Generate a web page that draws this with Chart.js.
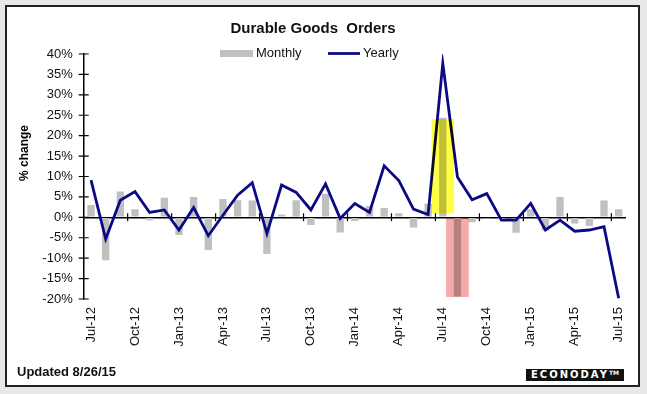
<!DOCTYPE html>
<html><head><meta charset="utf-8">
<script src="https://cdn.jsdelivr.net/npm/chart.js@4.4.1/dist/chart.umd.min.js"></script>
<style>
html,body{margin:0;padding:0;background:#e8e8e8;width:647px;height:394px;overflow:hidden;}
#panel{position:absolute;left:5px;top:5px;width:631px;height:378px;background:#fff;border:2px solid #222;}
#wrap{position:absolute;left:0;top:0;width:647px;height:394px;}
#upd{position:absolute;left:17px;top:364px;font:bold 13px "Liberation Sans",Arial,sans-serif;color:#111;}
#logo{position:absolute;left:526px;top:369px;width:98px;height:12px;background:#111;color:#fff;font:bold 10px "DejaVu Sans",sans-serif;letter-spacing:2px;line-height:12px;text-align:center;white-space:nowrap;}
#logo sup{font-size:6px;letter-spacing:0;vertical-align:top;line-height:8px;}
</style>
</head><body>
<div id="panel"></div>
<div id="wrap"><canvas id="c" width="647" height="394"></canvas></div>
<div id="upd">Updated 8/26/15</div>
<div id="logo">ECONODAY<sup>TM</sup></div>
<script>
const categories = ['Jul-12','Aug-12','Sep-12','Oct-12','Nov-12','Dec-12','Jan-13','Feb-13','Mar-13','Apr-13','May-13','Jun-13','Jul-13','Aug-13','Sep-13','Oct-13','Nov-13','Dec-13','Jan-14','Feb-14','Mar-14','Apr-14','May-14','Jun-14','Jul-14','Aug-14','Sep-14','Oct-14','Nov-14','Dec-14','Jan-15','Feb-15','Mar-15','Apr-15','May-15','Jun-15','Jul-15'];
const monthly = [3.0,-10.5,6.3,2.0,-0.7,4.8,-4.3,5.0,-8.0,4.5,4.2,4.1,-9.0,0.7,4.2,-1.9,5.8,-3.7,-0.9,2.8,2.3,1.0,-2.5,3.3,24.4,-19.4,-1.2,-0.3,-0.5,-3.8,2.0,-3.2,5.0,-1.5,-2.1,4.1,2.0];
const yearly = [9.1,-5.3,4.2,6.3,1.2,1.8,-3.1,2.4,-4.5,0.5,5.4,8.5,-4.0,7.9,6.1,1.8,8.2,-0.3,3.4,1.2,12.6,9.0,2.0,0.7,37.7,9.9,4.3,5.8,-0.7,-0.7,3.4,-3.1,-0.7,-3.4,-3.1,-2.3,-19.8];
const highlightMonths = ['Jul-14','Aug-14'];
const highlightLow = [1, -19.4];
const highlightHigh = [24, 0];
const highlightColors = ['#ffff48','#f5aaaa'];
const yMin = -20, yMax = 40, yStep = 5;
const tickEvery = 3;

const highlightData = categories.map(c => {
  const k = highlightMonths.indexOf(c);
  return k < 0 ? null : [highlightLow[k], highlightHigh[k]];
});
const highlightBg = categories.map(c => {
  const k = highlightMonths.indexOf(c);
  return k < 0 ? 'rgba(0,0,0,0)' : highlightColors[k];
});

const FONT = '"Liberation Sans", Arial, sans-serif';
const NAVY = '#0a0a84';
const GRAY = '#c0c0c0';

const deco = {
  id: 'deco',
  beforeDatasetDraw(chart, args) {
    if (chart.data.datasets[args.index].label === 'highlight') {
      chart.ctx.save();
      chart.ctx.globalCompositeOperation = 'multiply';
    }
  },
  afterDatasetDraw(chart, args) {
    if (chart.data.datasets[args.index].label === 'highlight') chart.ctx.restore();
  },
  afterDraw(chart) {
    const {ctx, chartArea: a, scales: {x, y}} = chart;
    ctx.save();
    ctx.strokeStyle = '#000';
    ctx.lineWidth = 1.2;
    const y0 = y.getPixelForValue(0);
    ctx.beginPath();
    for (let i = tickEvery; i < categories.length; i += tickEvery) {
      const px = (x.getPixelForValue(i - 1) + x.getPixelForValue(i)) / 2;
      ctx.moveTo(px, y0 - 4); ctx.lineTo(px, y0 + 4);
    }
    y.ticks.forEach(t => {
      const py = y.getPixelForValue(t.value);
      ctx.moveTo(a.left - 5, py); ctx.lineTo(a.left + 5, py);
    });
    ctx.stroke();
    // y axis title
    ctx.save();
    ctx.translate(25, 153);
    ctx.rotate(-Math.PI / 2);
    ctx.fillStyle = '#000';
    ctx.font = 'bold 12px ' + FONT;
    ctx.textAlign = 'center';
    ctx.textBaseline = 'middle';
    ctx.fillText('% change', 0, 0);
    ctx.restore();
    // legend
    const ly = 53.5;
    ctx.fillStyle = GRAY;
    ctx.fillRect(220, ly - 3.5, 33, 7);
    ctx.strokeStyle = NAVY;
    ctx.lineWidth = 2.8;
    ctx.beginPath(); ctx.moveTo(328, ly); ctx.lineTo(360, ly); ctx.stroke();
    ctx.fillStyle = '#111';
    ctx.font = '13px ' + FONT;
    ctx.textAlign = 'left';
    ctx.textBaseline = 'middle';
    ctx.fillText('Monthly', 256, ly);
    ctx.fillText('Yearly', 363, ly);
    ctx.restore();
  }
};

new Chart(document.getElementById('c'), {
  data: {
    labels: categories,
    datasets: [
      { type: 'bar', label: 'highlight', data: highlightData, backgroundColor: highlightBg,
        grouped: false, barThickness: 22, order: 0 },
      { type: 'line', label: 'Yearly', data: yearly, borderColor: NAVY, borderWidth: 2.8,
        pointRadius: 0, tension: 0, fill: false, order: 1 },
      { type: 'bar', label: 'Monthly', data: monthly, backgroundColor: GRAY,
        grouped: false, categoryPercentage: 1, barPercentage: 0.5, order: 2 }
    ]
  },
  options: {
    responsive: false,
    animation: false,
    layout: { padding: { left: 0, right: 21, top: 20, bottom: 0 } },
    plugins: {
      legend: { display: false },
      tooltip: { enabled: false },
      title: { display: true, text: 'Durable Goods  Orders', color: '#111',
        font: { family: FONT, size: 15, weight: 'bold' }, padding: { top: 0, bottom: 16 } }
    },
    scales: {
      x: {
        offset: true,
        grid: { display: false, drawTicks: false },
        border: { display: false },
        ticks: {
          autoSkip: false, minRotation: 90, maxRotation: 90, padding: 8, color: '#111',
          font: { family: FONT, size: 13 },
          callback: (v, i) => (i % tickEvery === 0 ? categories[i] : '')
        },
        afterFit: s => { s.height = 95; }
      },
      y: {
        min: yMin, max: yMax,
        grid: { drawTicks: false, lineWidth: 1.5,
          color: c => (c.tick && c.tick.value === 0 ? '#000' : 'rgba(0,0,0,0)') },
        border: { display: true, color: '#000', width: 1.5 },
        ticks: { stepSize: yStep, padding: 11, color: '#111',
          font: { family: FONT, size: 13 }, callback: v => v + '%' },
        afterFit: s => { s.width = 83.7; }
      }
    }
  },
  plugins: [deco]
});
</script>
</body></html>
